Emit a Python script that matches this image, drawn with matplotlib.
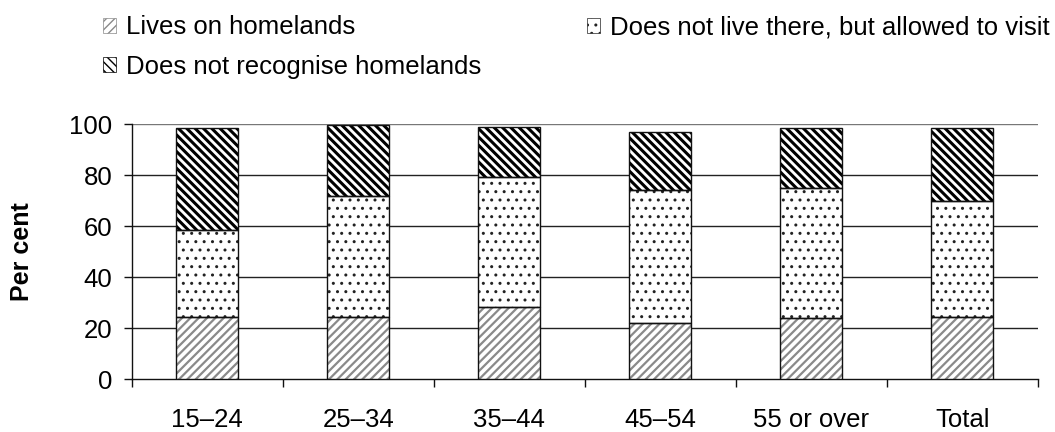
import matplotlib
matplotlib.use("Agg")
import matplotlib.pyplot as plt
import numpy as np
from matplotlib.patches import Patch

plt.rcParams['font.family'] = ['Liberation Sans', 'DejaVu Sans']

categories = ["15–24", "25–34", "35–44", "45–54", "55 or over", "Total"]
lives_on = [24.5, 24.5, 28.3, 21.9, 23.9, 24.5]
allowed_visit = [34.0, 47.2, 51.0, 52.4, 50.9, 45.3]
not_recognise = [39.8, 27.9, 19.6, 22.7, 23.5, 28.5]
series_labels = ["Lives on homelands", "Does not live there, but allowed to visit",
                 "Does not recognise homelands"]
yticks = [0, 20, 40, 60, 80, 100]

W, H = 1055, 432
fig = plt.figure(figsize=(W / 100, H / 100), dpi=100)
ax = fig.add_axes([131.7 / W, 1 - 379.3 / H, (1037.7 - 131.7) / W, (379.3 - 124) / H])

x = np.arange(len(categories))
bw = 0.41
lo = np.array(lives_on)
av = np.array(allowed_visit)
nr = np.array(not_recognise)

styles = [
    dict(hatch='////', hc='#8a8a8a', hlw=1.6),
    dict(hatch='..', hc='#222222', hlw=1.0),
    dict(hatch='\\\\\\\\', hc='#000000', hlw=2.2),
]
vals = [lo, av, nr]
bottoms = [np.zeros_like(lo), lo, lo + av]

for v, b, st in zip(vals, bottoms, styles):
    with plt.rc_context({'hatch.linewidth': st['hlw']}):
        ax.bar(x, v, bw, bottom=b, facecolor='white', edgecolor=st['hc'],
               hatch=st['hatch'], linewidth=0, zorder=3)
    ax.bar(x, v, bw, bottom=b, fill=False, edgecolor='#111111', linewidth=1.0, zorder=4)

ax.set_xlim(-0.5, len(categories) - 0.5)
ax.set_ylim(0, 100)
ax.set_yticks(yticks)
ax.set_yticklabels([str(t) for t in yticks])
ax.set_xticks(x)
ax.set_xticklabels(categories)
ax.set_xticks(np.arange(-0.5, len(categories), 1.0), minor=True)
ax.tick_params(axis='x', which='major', length=0, pad=21, labelsize=18.5)
ax.tick_params(axis='x', which='minor', length=5.5, width=1, direction='out', color='#111111')
ax.tick_params(axis='y', length=6, width=1, direction='out', pad=8, labelsize=18.5, color='#111111')

for t in yticks[1:]:
    ax.axhline(t, color='#222222' if t < 100 else '#777777', linewidth=1.0, zorder=1)

for s in ['top', 'right']:
    ax.spines[s].set_visible(False)
for s in ['left', 'bottom']:
    ax.spines[s].set_color('#111111')
    ax.spines[s].set_linewidth(1.0)

fig.text(22.5 / W, 1 - 252 / H, "Per cent", rotation=90, ha='center', va='center',
         fontsize=18, fontweight='bold')

handles = []
for st, lab in zip(styles, series_labels):
    with plt.rc_context({'hatch.linewidth': min(st['hlw'], 1.5)}):
        handles.append(Patch(facecolor='white', edgecolor=st['hc'], hatch=st['hatch'],
                             linewidth=0.5, label=lab))
order = [0, 2, 1]
leg = fig.legend([handles[i] for i in order], [series_labels[i] for i in order],
                 loc='upper left', bbox_to_anchor=(103 / W, 1 - 15.5 / H), ncol=2,
                 frameon=False, fontsize=18.5, handlelength=0.5, handleheight=0.5,
                 handletextpad=0.4, columnspacing=4.1, labelspacing=0.6,
                 borderaxespad=0, borderpad=0)

fig.savefig("out.png", dpi=100)
